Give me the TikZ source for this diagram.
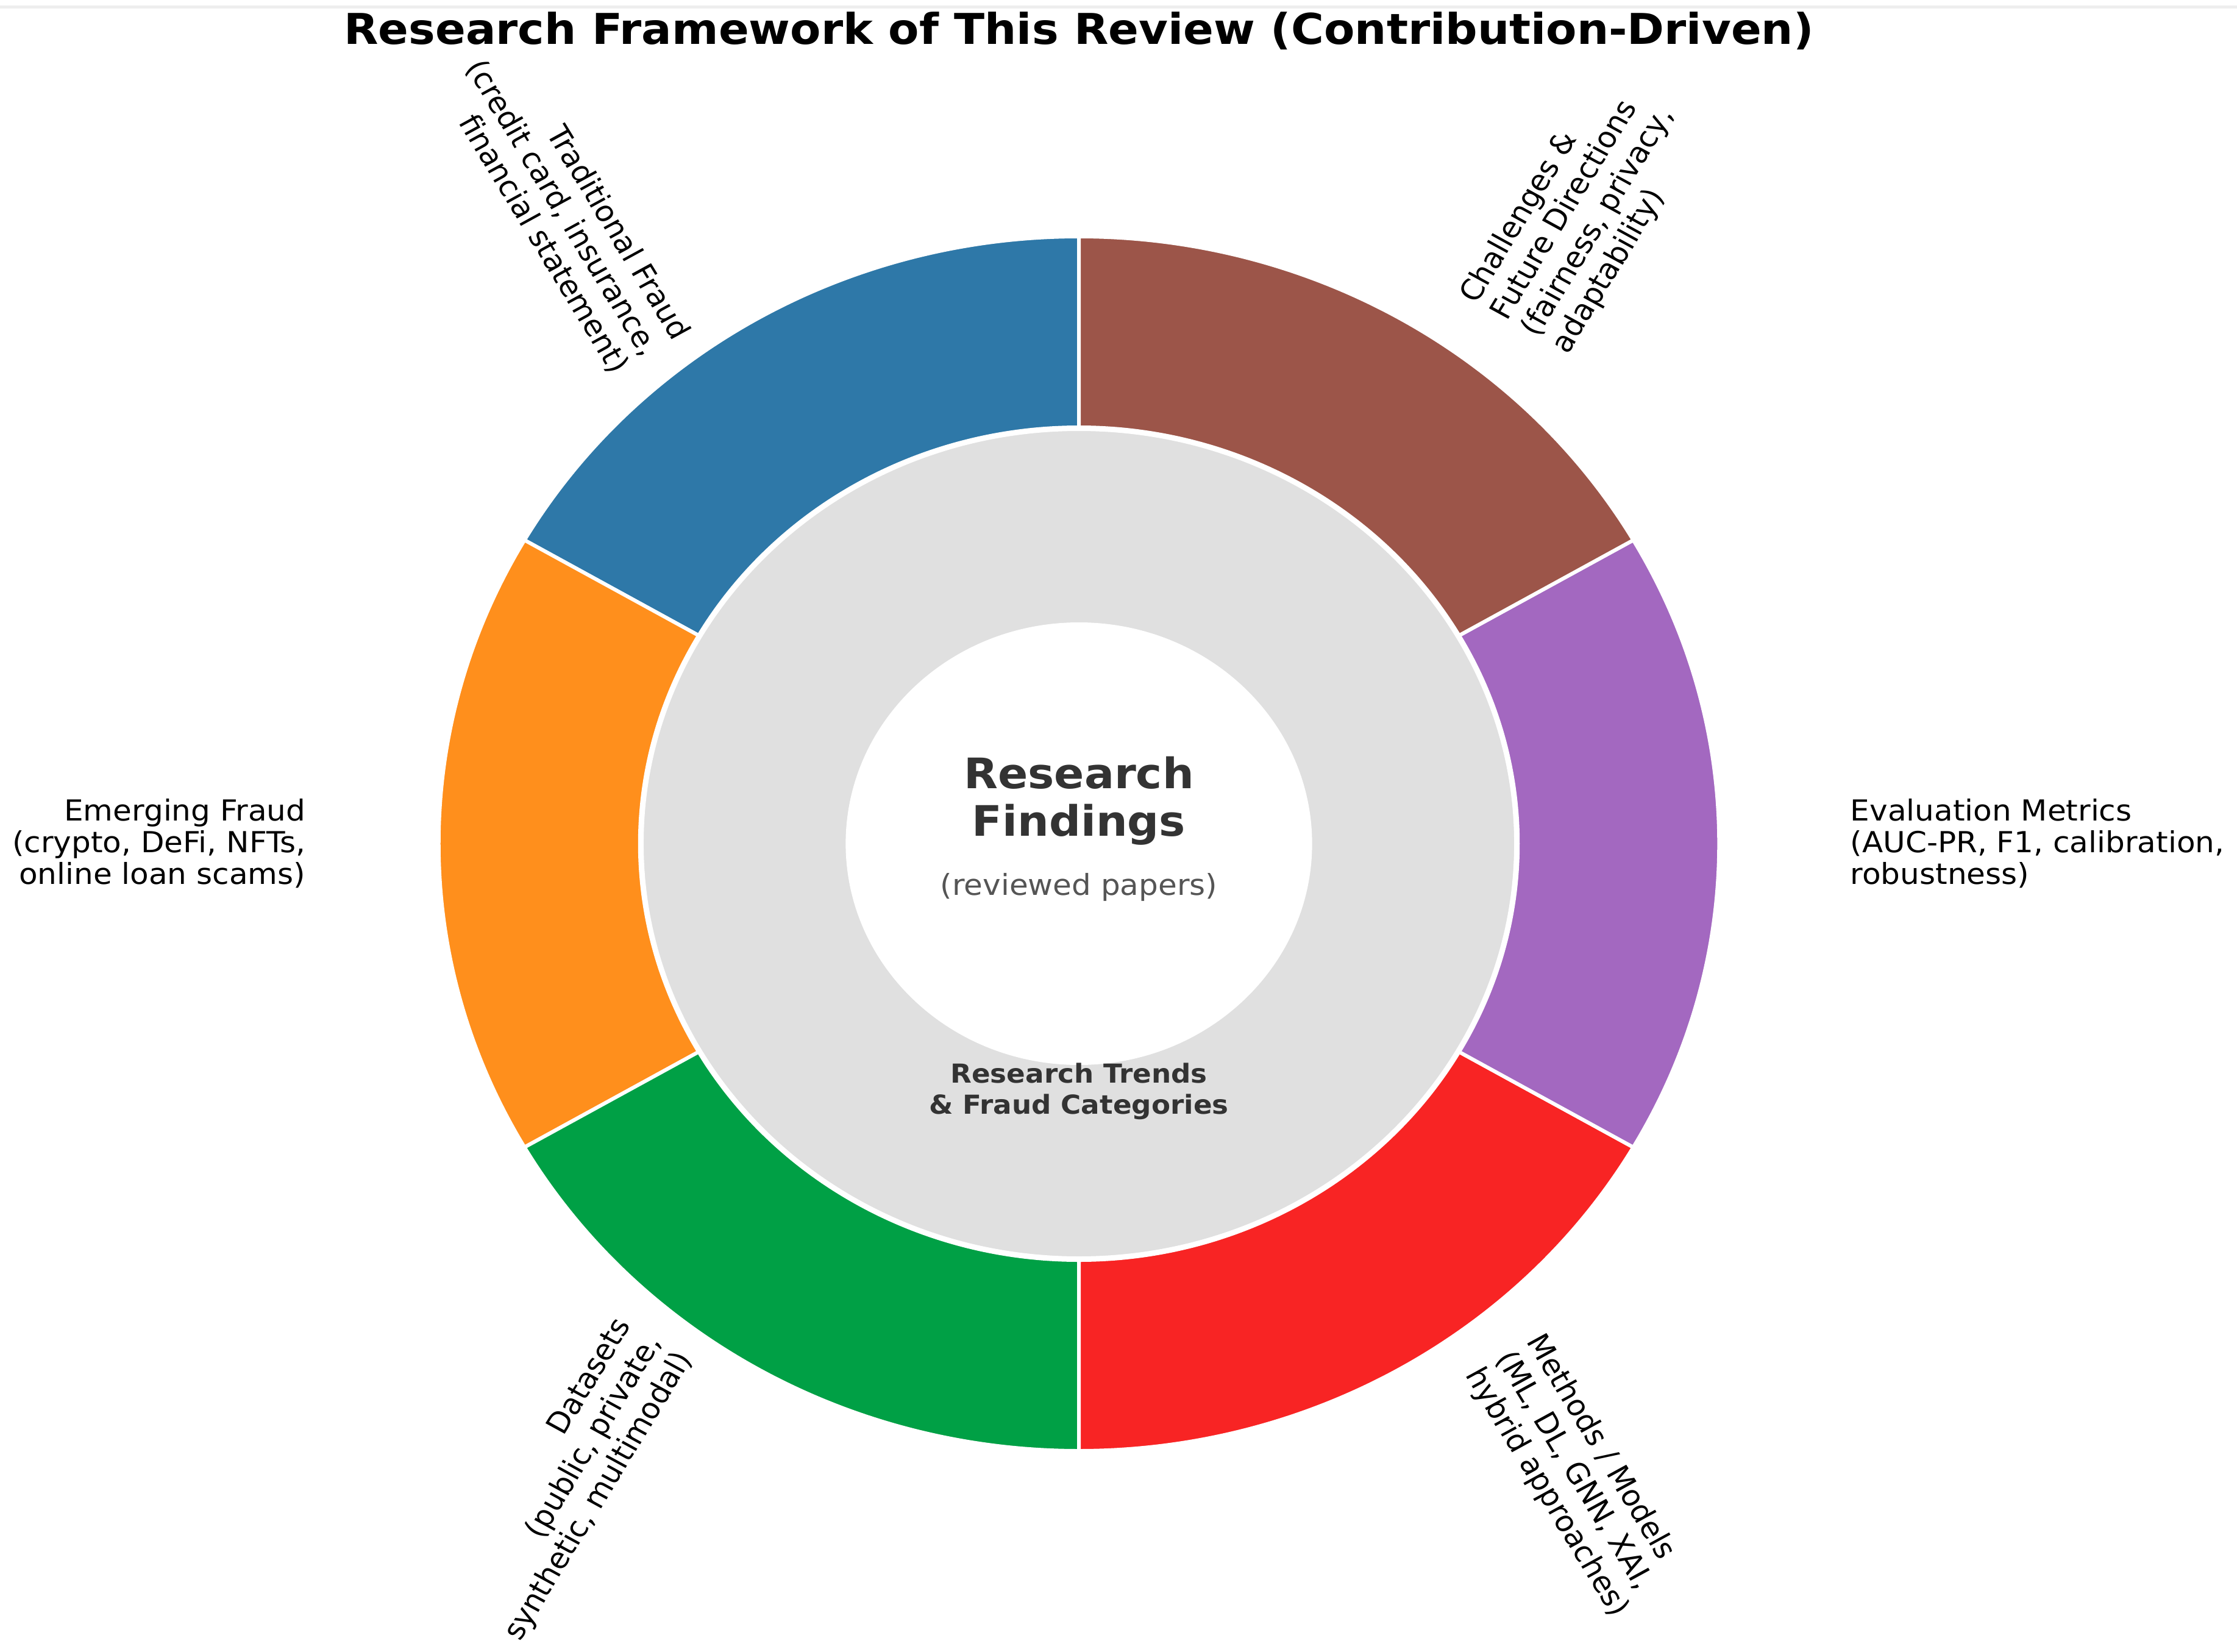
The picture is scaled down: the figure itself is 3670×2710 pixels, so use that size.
\documentclass[tikz,border=0pt]{standalone}
\usepackage{fontspec}
\setmainfont{DejaVu Sans}
\usepackage{tikz}
\usetikzlibrary{positioning}
\definecolor{tradblue}{HTML}{2E78A8}
\definecolor{emergorange}{HTML}{FF8F1C}
\definecolor{datagreen}{HTML}{00A045}
\definecolor{methred}{HTML}{F82424}
\definecolor{evalpurple}{HTML}{A368C0}
\definecolor{challbrown}{HTML}{9C5549}
\definecolor{ringgray}{HTML}{E0E0E0}
\definecolor{hubgray}{HTML}{333333}
\definecolor{subgray}{HTML}{555555}
\definecolor{topline}{HTML}{EEEEEE}
\newcommand{\lblfont}{\fontsize{13.5}{14.8}\selectfont}
\newcommand{\rotlblfont}{\fontsize{13.5}{15.6}\selectfont}
\newcommand{\fwtitlefont}{\fontsize{19.8}{23}\selectfont\bfseries}
\newcommand{\hubfont}{\fontsize{19.6}{22.2}\selectfont\bfseries}
\newcommand{\trendfont}{\fontsize{12.2}{14.5}\selectfont\bfseries}
\tikzset{
  sector/.style={draw=white,line width=0.6mm},
  lbl/.style={font=\lblfont,inner sep=0pt,xscale=1.0545},
  rotlbl/.style={font=\rotlblfont,inner sep=0pt,xscale=1.0545},
  heading/.style={font=\fwtitlefont,inner sep=0pt,xscale=1.0545,anchor=base},
  hub/.style={font=\hubfont,text=hubgray,inner sep=0pt,xscale=1.0545,align=center,anchor=north},
  hubsub/.style={font=\lblfont,text=subgray,inner sep=0pt,xscale=1.0545,anchor=base},
  trend/.style={font=\trendfont,text=hubgray,inner sep=0pt,xscale=1.0545,align=center,anchor=north}
}

\begin{document}
\begin{tikzpicture}[x=0.01cm,y=0.01cm]
    \useasboundingbox (0,0) rectangle (3670,-2710);
    \draw[topline,line width=0.5mm] (0,-12) -- (3670,-12);
    \node[heading] (title) at (1770,-73) {Research Framework of This Review (Contribution-Driven)};

    \begin{scope}[shift={(1770,-1384)},xscale=1.0545]
        \foreach \a/\c in {90/tradblue,150/emergorange,210/datagreen,270/methred,330/evalpurple,30/challbrown}
            \filldraw[sector,fill=\c] (\a:683) -- (\a:996) arc[start angle=\a,end angle=\a+60,radius=996] -- ({\a+60}:683) arc[start angle=\a+60,end angle=\a,radius=683] -- cycle;
        \filldraw[sector,fill=ringgray] (0,0) circle[radius=680];
        \filldraw[sector,fill=white] (0,0) circle[radius=360];
    \end{scope}

    \node[hub] (findings) at (1770,-1240) {Research\\Findings};
    \node[hubsub] (papers) at (1770,-1468) {(reviewed papers)};
    \node[trend] (trends) at (1770,-1743) {Research Trends\\\& Fraud Categories};

    \node[rotlbl,anchor=east,align=right,rotate=-60] (traditional) at (1068,-581) {Traditional Fraud\\(credit card, insurance,\\financial statement)};
    \node[lbl,anchor=east,align=right] (emerging) at (502,-1384) {Emerging Fraud\\(crypto, DeFi, NFTs,\\online loan scams)};
    \node[rotlbl,anchor=east,align=right,rotate=60] (datasets) at (1075,-2195) {Datasets\\(public, private,\\synthetic, multimodal)};
    \node[rotlbl,anchor=west,align=left,rotate=-60] (methods) at (2465,-2221) {Methods / Models\\(ML, DL, GNN, XAI,\\hybrid approaches)};
    \node[lbl,anchor=west,align=left] (evaluation) at (3035,-1384) {Evaluation Metrics\\(AUC-PR, F1, calibration,\\robustness)};
    \node[rotlbl,anchor=west,align=left,rotate=60] (challenges) at (2485,-535) {Challenges \&\\Future Directions\\(fairness, privacy,\\adaptability)};
\end{tikzpicture}
\end{document}
